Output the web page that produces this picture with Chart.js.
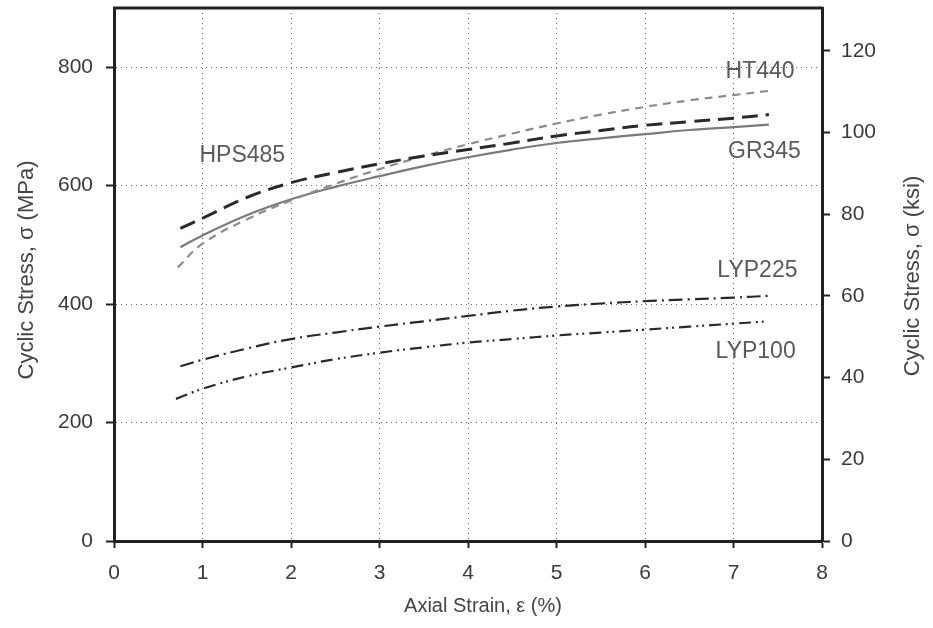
<!DOCTYPE html>
<html>
<head>
<meta charset="utf-8">
<script src="https://cdn.jsdelivr.net/npm/chart.js@4.4.0/dist/chart.umd.min.js"></script>
<style>
  html, body { margin: 0; padding: 0; background: #fff; }
</style>
</head>
<body>
<canvas id="myChart" width="933" height="628"></canvas>
<script>
// strain (%) and cyclic stress (MPa)
var strainHPS485 = [0.75, 1, 1.5, 2, 2.5, 3, 3.5, 4, 4.5, 5, 5.5, 6, 6.5, 7, 7.4];
var stressHPS485 = [528, 545, 580, 605, 622, 637, 650, 661, 672, 684, 693, 702, 708, 714, 720];

var strainHT440 = [0.72, 1, 1.5, 2, 2.5, 3, 3.5, 4, 4.5, 5, 5.5, 6, 6.5, 7, 7.4];
var stressHT440 = [462, 502, 543, 575, 603, 628, 650, 670, 688, 705, 720, 733, 744, 753, 760];

var strainGR345 = [0.75, 1, 1.5, 2, 2.5, 3, 3.5, 4, 4.5, 5, 5.5, 6, 6.5, 7, 7.4];
var stressGR345 = [496, 516, 550, 577, 598, 616, 633, 648, 661, 672, 680, 687, 694, 699, 703];

var strainLYP225 = [0.75, 1, 1.5, 2, 2.5, 3, 3.5, 4, 4.5, 5, 5.5, 6, 6.5, 7, 7.4];
var stressLYP225 = [295, 306, 325, 341, 352, 362, 371, 380, 389, 396, 401, 405, 408, 411, 414];

var strainLYP100 = [0.7, 1, 1.5, 2, 2.5, 3, 3.5, 4, 4.5, 5, 5.5, 6, 6.5, 7, 7.4];
var stressLYP100 = [240, 257, 278, 293, 307, 318, 327, 335, 341, 347, 352, 357, 362, 367, 371];

var seriesNames = ["HPS485", "HT440", "GR345", "LYP225", "LYP100"];

var MPA_PER_KSI = 6.895;
var FONT = "'Liberation Sans', Arial, sans-serif";

function pts(xs, ys) {
  return xs.map(function (x, i) { return { x: x, y: ys[i] }; });
}

// where each curve name is written, in data units (strain, MPa)
var curveLabels = [
  { text: "HPS485", x: 1.45, y: 650 },
  { text: "HT440", x: 7.3, y: 792 },
  { text: "GR345", x: 7.35, y: 657 },
  { text: "LYP225", x: 7.27, y: 456 },
  { text: "LYP100", x: 7.25, y: 320 }
];

var labelPlugin = {
  id: "curveLabels",
  afterDraw: function (chart) {
    var c = chart.ctx, xs = chart.scales.x, ys = chart.scales.y, a = chart.chartArea;
    c.save();
    // top frame line
    c.strokeStyle = "#222";
    c.lineWidth = 3;
    c.beginPath();
    c.moveTo(a.left - 1, a.top);
    c.lineTo(a.right + 1, a.top);
    c.stroke();

    c.textAlign = "center";
    c.textBaseline = "middle";
    c.fillStyle = "#5a5a5a";
    c.font = "23px " + FONT;
    curveLabels.forEach(function (l) {
      c.fillText(l.text, xs.getPixelForValue(l.x), ys.getPixelForValue(l.y));
    });

    // axis titles
    c.fillStyle = "#444";
    c.font = "20px " + FONT;
    c.fillText("Axial Strain, ε (%)", 483, 606);
    c.font = "22px " + FONT;
    c.save();
    c.translate(27, 270);
    c.rotate(-Math.PI / 2);
    c.fillText("Cyclic Stress, σ (MPa)", 0, 0);
    c.restore();
    c.save();
    c.translate(913, 276);
    c.rotate(-Math.PI / 2);
    c.fillText("Cyclic Stress, σ (ksi)", 0, 0);
    c.restore();
    c.restore();
  }
};

function noPad(s) {
  s.paddingTop = 0; s.paddingBottom = 0; s.paddingLeft = 0; s.paddingRight = 0;
}

var ctx = document.getElementById("myChart").getContext("2d");

var myChart = new Chart(ctx, {
  type: "line",
  data: {
    datasets: [
      { label: seriesNames[0], data: pts(strainHPS485, stressHPS485), borderColor: "#2a2a2a", borderWidth: 3, borderDash: [16, 8] },
      { label: seriesNames[1], data: pts(strainHT440, stressHT440), borderColor: "#8c8c8c", borderWidth: 2.2, borderDash: [8, 6] },
      { label: seriesNames[2], data: pts(strainGR345, stressGR345), borderColor: "#7a7a7a", borderWidth: 2.2 },
      { label: seriesNames[3], data: pts(strainLYP225, stressLYP225), borderColor: "#2a2a2a", borderWidth: 2.2, borderDash: [14, 5, 2, 5] },
      { label: seriesNames[4], data: pts(strainLYP100, stressLYP100), borderColor: "#2a2a2a", borderWidth: 2.2, borderDash: [12, 5, 2, 4, 2, 5] }
    ]
  },
  options: {
    responsive: false,
    animation: false,
    layout: { padding: { top: 8, left: 0, right: 0, bottom: 0 } },
    elements: { point: { radius: 0 }, line: { tension: 0.4, fill: false } },
    plugins: { legend: { display: false }, tooltip: { enabled: false } },
    scales: {
      x: {
        type: "linear",
        min: 0,
        max: 8,
        ticks: { stepSize: 1, color: "#3a3a3a", font: { family: FONT, size: 21 }, padding: 13 },
        grid: { color: "#666", lineWidth: 1, tickLength: 7, tickColor: "#222", tickWidth: 2, tickBorderDash: [] },
        border: { display: true, color: "#222", width: 3, dash: [1, 4] },
        afterFit: function (s) { s.height = 87; noPad(s); }
      },
      y: {
        position: "left",
        min: 0,
        max: 900,
        ticks: { stepSize: 200, includeBounds: false, color: "#3a3a3a", font: { family: FONT, size: 21 }, padding: 13 },
        grid: { color: "#666", lineWidth: 1, tickLength: 8, tickColor: "#222", tickWidth: 2, tickBorderDash: [] },
        border: { display: true, color: "#222", width: 3, dash: [1, 4] },
        afterFit: function (s) { s.width = 114; noPad(s); }
      },
      y2: {
        position: "right",
        min: 0,
        max: 900 / MPA_PER_KSI,
        ticks: { stepSize: 20, includeBounds: false, color: "#3a3a3a", font: { family: FONT, size: 21 }, padding: 11 },
        grid: { drawOnChartArea: false, tickLength: 8, tickColor: "#222", tickWidth: 2 },
        border: { display: true, color: "#222", width: 3 },
        afterFit: function (s) { s.width = 111; noPad(s); }
      }
    }
  },
  plugins: [labelPlugin]
});
</script>
</body>
</html>
